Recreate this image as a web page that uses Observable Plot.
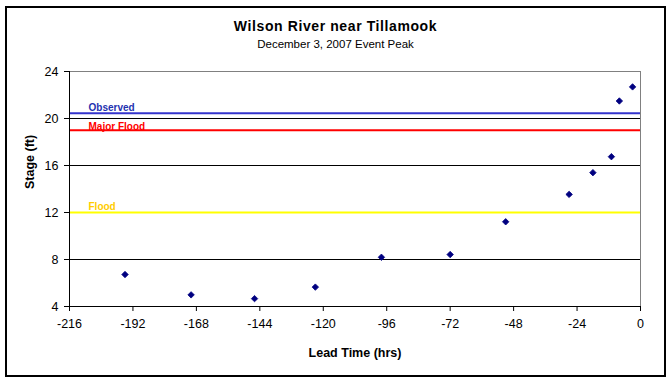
<!DOCTYPE html>
<html>
<head>
<meta charset="utf-8">
<script src="https://cdn.jsdelivr.net/npm/d3@7"></script>
<script src="https://cdn.jsdelivr.net/npm/@observablehq/plot@0.6"></script>
<style>
  html, body { margin: 0; padding: 0; background: #fff; }
  #wrap { position: relative; width: 672px; height: 384px; overflow: hidden; background: #fff; }
  #wrap svg { position: absolute; left: 0; top: 0; }
  #border { position: absolute; left: 5px; top: 6px; width: 661px; height: 371px; box-sizing: border-box; border: 2px solid #000; pointer-events: none; }
</style>
</head>
<body>
<div id="wrap"><div id="border"></div></div>
<script>
// ---- data ----
const leadTime = [-195, -170, -146, -123, -98, -72, -51, -27, -18, -11, -8, -3];
const stage    = [6.72, 4.99, 4.67, 5.65, 8.19, 8.42, 11.21, 13.54, 15.39, 16.75, 21.49, 22.69];

const levelNames  = ["Observed", "Major Flood", "Flood"];
const levelValues = [20.45, 19, 12];
const levelLineColors = ["#3333cc", "#ff0000", "#ffff00"];
const levelTextColors = ["#1f32b0", "#ff0000", "#ffcc00"];

const xTicks = [-216, -192, -168, -144, -120, -96, -72, -48, -24, 0];
const yTicks = [4, 8, 12, 16, 20, 24];
const gridValues = [8, 12, 16, 20];

const titleText = "Wilson River near Tillamook";
const subtitleText = "December 3, 2007 Event Peak";
const xLabel = "Lead Time (hrs)";
const yLabel = "Stage (ft)";

// ---- tables built from the arrays ----
const points = leadTime.map((t, i) => ({t, s: stage[i]}));
const levels = levelNames.map((name, i) => ({name, v: levelValues[i], line: levelLineColors[i], text: levelTextColors[i]}));

const xMin = xTicks[0], xMax = xTicks[xTicks.length - 1];
const yMin = yTicks[0], yMax = yTicks[yTicks.length - 1];

const font = "'Liberation Sans', Arial, sans-serif";

const chart = Plot.plot({
  width: 672,
  height: 384,
  marginLeft: 69,
  marginRight: 32,
  marginTop: 71,
  marginBottom: 78,
  style: {fontFamily: font, fontSize: "12px", color: "#000", background: "transparent"},
  x: {domain: [xMin, xMax]},
  y: {domain: [yMin, yMax]},
  marks: [
    // gridlines
    Plot.ruleY(gridValues, {stroke: "#000", strokeWidth: 1}),
    // plot area border: top & right grey
    Plot.ruleY([yMax], {stroke: "#808080", strokeWidth: 1}),
    Plot.ruleX([xMax], {stroke: "#808080", strokeWidth: 1}),
    // series labels
    ...levels.map((d, i) => Plot.text([d], {
      y: "v", text: "name", frameAnchor: "left", textAnchor: "start", lineAnchor: "bottom",
      dx: 19, dy: i === 1 ? -0.5 : -2.5, fill: d.text, fontWeight: "bold", fontSize: 10
    })),
    // threshold lines
    ...levels.map((d) => Plot.ruleY([d], {y: "v", stroke: d.line, strokeWidth: 2})),
    // axis lines
    Plot.ruleX([xMin], {stroke: "#000", strokeWidth: 1}),
    Plot.ruleY([yMin], {stroke: "#000", strokeWidth: 1}),
    // axes
    Plot.axisY(yTicks, {anchor: "left", tickSize: 5, tickPadding: 6, fontSize: 12.5, label: null, tickFormat: (d) => String(d)}),
    Plot.axisX(xTicks, {anchor: "bottom", tickSize: 5, tickPadding: 8, fontSize: 12.5, label: null, tickFormat: (d) => String(d)}),
    // data points
    Plot.dot(points, {x: "t", y: "s", symbol: "diamond2", r: 2.9, fill: "#000080", stroke: "#000080", strokeWidth: 0.8}),
    // titles and axis labels
    Plot.text([titleText], {frameAnchor: "top", lineAnchor: "middle", dx: -19.5, dy: -44.5, fontSize: 14, fontWeight: "bold", fill: "#000"}),
    Plot.text([subtitleText], {frameAnchor: "top", lineAnchor: "middle", dx: -19.5, dy: -27.5, fontSize: 11.5, fill: "#000"}),
    Plot.text([xLabel], {frameAnchor: "bottom", lineAnchor: "middle", dy: 46, fontSize: 12.5, fontWeight: "bold", fill: "#000"}),
    Plot.text([yLabel], {frameAnchor: "left", lineAnchor: "middle", rotate: -90, dx: -40, fontSize: 12.5, fontWeight: "bold", fill: "#000"})
  ]
});

// widen the title's letter spacing like the reference rendering
d3.select(chart).selectAll("text").filter(function() { return this.textContent === titleText; })
  .style("letter-spacing", "0.6px");

document.getElementById("wrap").insertBefore(chart, document.getElementById("border"));
</script>
</body>
</html>
